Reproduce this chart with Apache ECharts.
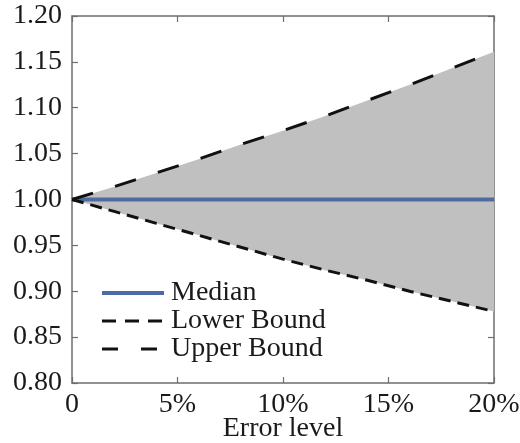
<!DOCTYPE html>
<html>
<head>
<meta charset="utf-8">
<title>Error level bounds</title>
<script src="https://cdn.jsdelivr.net/npm/echarts@6/dist/echarts.min.js"></script>
<style>
  html, body { margin: 0; padding: 0; background: #ffffff; }
  #chart { width: 520px; height: 443px; }
</style>
</head>
<body>
<div id="chart"></div>
<script>
// Error level (%) and the ratio statistics at each level
const errorLevels = [0, 2, 4, 6, 8, 10, 12, 14, 16, 18, 20];
const median      = [1.000, 1.000, 1.000, 1.000, 1.000, 1.000, 1.000, 1.000, 1.000, 1.000, 1.000];
const lowerBound  = [1.000, 0.987, 0.974, 0.961, 0.948, 0.935, 0.923, 0.912, 0.900, 0.889, 0.878];
const upperBound  = [1.000, 1.014, 1.029, 1.044, 1.060, 1.075, 1.091, 1.108, 1.125, 1.143, 1.161];

const xTicks = [0, 5, 10, 15, 20];
const yTicks = [0.80, 0.85, 0.90, 0.95, 1.00, 1.05, 1.10, 1.15, 1.20];

const FONT = '"Liberation Serif", "DejaVu Serif", serif';
const TEXT = '#1a1a1a';
const FRAME = '#6e6e6e';

const pairs = arr => errorLevels.map((x, i) => [x, arr[i]]);

const frameAxis = {
  axisLine: { show: true, onZero: false, lineStyle: { color: FRAME, width: 1.5 } },
  axisTick: { show: true, inside: true, length: 6, lineStyle: { color: FRAME, width: 1.2 } },
  splitLine: { show: false }
};

// Shaded region between the lower and upper bound, projected through the axes
function renderBand(params, api) {
  const top = errorLevels.map((x, i) => api.coord([x, upperBound[i]]));
  const bottom = errorLevels.map((x, i) => api.coord([x, lowerBound[i]])).reverse();
  return {
    type: 'polygon',
    shape: { points: top.concat(bottom) },
    style: { fill: '#c0c0c0', stroke: 'none' },
    silent: true
  };
}

const chart = echarts.init(document.getElementById('chart'), null, { renderer: 'canvas' });

chart.setOption({
  animation: false,
  backgroundColor: '#ffffff',
  textStyle: { fontFamily: FONT, color: TEXT },
  grid: { left: 72, right: 26, top: 16, bottom: 60, containLabel: false, outerBoundsMode: 'none' },
  legend: {
    orient: 'vertical',
    left: 100,
    top: 279,
    padding: 0,
    itemWidth: 62,
    itemHeight: 14,
    itemGap: 0,
    selectedMode: false,
    textStyle: { fontFamily: FONT, fontSize: 28, lineHeight: 28, color: TEXT, padding: [0, 0, 0, 2] },
    data: [
      { name: 'Median', itemStyle: { opacity: 0 }, lineStyle: { type: 'solid', width: 4, color: '#4a6aa8' } },
      { name: 'Lower Bound', itemStyle: { opacity: 0 }, lineStyle: { type: [14, 9], width: 3 } },
      { name: 'Upper Bound', itemStyle: { opacity: 0 }, lineStyle: { type: [16, 23], width: 3 } }
    ]
  },
  xAxis: [
    Object.assign({
      type: 'value', position: 'bottom', min: xTicks[0], max: xTicks[xTicks.length - 1], interval: 5,
      name: 'Error level', nameLocation: 'middle', nameGap: 32, nameMoveOverlap: false,
      nameTextStyle: { fontFamily: FONT, fontSize: 28, color: TEXT },
      axisLabel: {
        margin: 8, fontFamily: FONT, fontSize: 28, color: TEXT,
        formatter: v => (v === 0 ? '0' : v + '%')
      }
    }, frameAxis),
    Object.assign({
      type: 'value', position: 'top', min: xTicks[0], max: xTicks[xTicks.length - 1], interval: 5,
      axisLabel: { show: false }
    }, frameAxis)
  ],
  yAxis: [
    Object.assign({
      type: 'value', position: 'left', min: yTicks[0], max: yTicks[yTicks.length - 1], interval: 0.05,
      axisLabel: {
        margin: 10, fontFamily: FONT, fontSize: 28, color: TEXT,
        formatter: v => v.toFixed(2)
      }
    }, frameAxis),
    Object.assign({
      type: 'value', position: 'right', min: yTicks[0], max: yTicks[yTicks.length - 1], interval: 0.05,
      axisLabel: { show: false }
    }, frameAxis)
  ],
  series: [
    {
      name: 'band', type: 'custom', renderItem: renderBand,
      data: [[errorLevels[0], lowerBound[0]]], silent: true, z: 1
    },
    {
      name: 'Median', type: 'line', data: pairs(median), symbol: 'none',
      lineStyle: { color: '#506c9e', width: 4 }, itemStyle: { color: '#4a6aa8' }, z: 3
    },
    {
      name: 'Lower Bound', type: 'line', data: pairs(lowerBound), symbol: 'none',
      lineStyle: { color: '#111111', width: 3, type: [12, 7] }, itemStyle: { color: '#111111' }, z: 4
    },
    {
      name: 'Upper Bound', type: 'line', data: pairs(upperBound), symbol: 'none',
      lineStyle: { color: '#111111', width: 3, type: [22, 23] }, itemStyle: { color: '#111111' }, z: 4
    }
  ]
});
</script>
</body>
</html>
